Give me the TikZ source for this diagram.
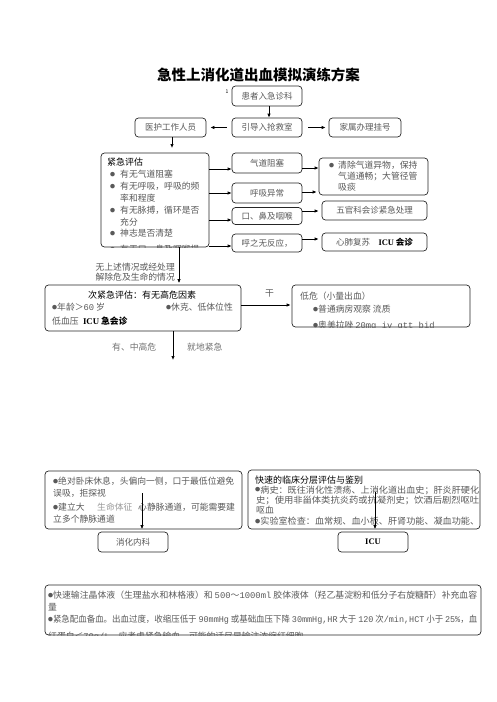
\documentclass[tikz,border=0pt]{standalone}
\usepackage{fontspec}
\usepackage{graphicx}
\setmainfont{Noto Sans CJK SC}
\newfontfamily\tnr{Liberation Serif}
\newfontfamily\mono{Liberation Mono}
\usetikzlibrary{arrows.meta,calc}
\newcommand\dotb{\raisebox{1.2pt}{\fontsize{5}{5}\selectfont ●}}
\newcommand\fitw[2]{\resizebox{#1}{\height}{#2}}
\newcommand\icu{{\tnr\bfseries ICU}}
\begin{document}
\begin{tikzpicture}[x=1pt,y=-1pt,
  box/.style={draw=black!85, line width=0.7pt, rounded corners=3.5pt, inner sep=0pt, font=\fontsize{8.5}{10}\selectfont, text=black!65},
  tx/.style={anchor=west, inner sep=0pt, font=\fontsize{8.8}{10}\selectfont, text=black!65},
  hd/.style={tx, text=black, font=\fontsize{9}{10}\selectfont},
  arr/.style={line width=0.7pt, -{Latex[length=4pt,width=3.4pt]}},
]
\useasboundingbox (0,0) rectangle (496,702);
\fill[white] (0,0) rectangle (496,702);

% title
\node[font=\bfseries\fontsize{14.5}{16}\selectfont] (title) at (258.5,75) {急性上消化道出血模拟演练方案};
\node[inner sep=0pt, font=\fontsize{5}{5}\selectfont] (sup1) at (227,92) {1};

% top row
\node[box, minimum width=70pt, minimum height=20pt] (n1) at (267,96) {患者入急诊科};
\node[box, minimum width=70pt, minimum height=19pt] (n2) at (267,127.5) {引导入抢救室};
\node[box, minimum width=71pt, minimum height=19pt] (n3) at (170.5,127.5) {医护工作人员};
\node[box, minimum width=72pt, minimum height=19pt] (n4) at (365,127.5) {家属办理挂号};
\draw[arr] ([xshift=2pt]n1.south) -- ([xshift=2pt]n2.north);
\draw[arr, shorten <=5pt, shorten >=4pt] (n2) -- (n3);
\draw[arr, shorten <=6pt, shorten >=3pt] (n2) -- (n4);
\draw[arr, shorten >=5pt] ([xshift=1.5pt]n3.south) -- ([xshift=1.5pt]n3.south |- 0,153);

% emergency assessment
\node[box, minimum width=108pt, minimum height=94pt] (n5) at (155,200) {};
\begin{scope}
\clip[rounded corners=3.5pt] (n5.south west) rectangle (n5.north east);
\node[hd] (t5a) at (107,162) {紧急评估};
\node[tx] (t5b) at (110,174) {\makebox[10pt][l]{\dotb}有无气道阻塞};
\node[tx] (t5c) at (110,186) {\makebox[10pt][l]{\dotb}有无呼吸，呼吸的频};
\node[tx] (t5d) at (120,198) {率和程度};
\node[tx] (t5e) at (110,210) {\makebox[10pt][l]{\dotb}有无脉搏，循环是否};
\node[tx] (t5f) at (120,222) {充分};
\node[tx] (t5g) at (110,233) {\makebox[10pt][l]{\dotb}神志是否清楚};
\node[tx] (t5h) at (110,249) {\makebox[10pt][l]{\dotb}有无口、鼻及咽喉损};
\end{scope}

% middle column
\node[box, minimum width=70pt, minimum height=20pt] (r1) at (267,163) {气道阻塞};
\node[box, minimum width=70pt, minimum height=20pt] (r2) at (267,193) {呼吸异常};
\node[box, minimum width=70pt, minimum height=17pt] (r3) at (267,216) {口、鼻及咽喉};
\node[box, minimum width=70pt, minimum height=18pt] (r4) at (267,243) {呼之无反应，};
\path ($(r1.west)+(0,6)$) coordinate (a1);
\path (r2.west) coordinate (a2);
\path ($(r3.west)+(0,4)$) coordinate (a3);
\path ($(r4.west)+(0,3)$) coordinate (a4);
\draw[arr] (n5.east |- a1) -- (a1);
\draw[arr] (n5.east |- a2) -- (a2);
\draw[arr] (n5.east |- a3) -- (a3);
\draw[arr] (n5.east |- a4) -- (a4);

% right column
\node[box, minimum width=109pt, minimum height=37pt] (s1) at (373.5,176.5) {};
\node[tx] (t1a) at (329,165) {\makebox[9pt][l]{\dotb}清除气道异物，保持};
\node[tx] (t1b) at (338,176) {气道通畅；大管径管};
\node[tx] (t1c) at (338,187) {吸痰};
\node[box, minimum width=105pt, minimum height=19pt] (s2) at (374.5,210.5) {五官科会诊紧急处理};
\node[box, minimum width=105pt, minimum height=18pt] (s3) at (374.5,242) {心肺复苏\quad{\color{black}\icu\ \bfseries 会诊}};
\path ($(r1.east)+(0,5)$) coordinate (b1);
\path ($(r2.east)+(0,-1)$) coordinate (b2);
\path ($(r3.east)+(0,-5)$) coordinate (b3);
\path ($(r4.east)+(0,-4)$) coordinate (b4);
\draw[arr] (b1) -- (s1.west |- b1);
\draw[arr, shorten >=2pt] (b2) -- (s1.west |- b2);
\draw[arr, shorten >=3pt] (b3) -- (s2.west |- b3);
\draw[arr, shorten >=3pt] (b4) -- (s3.west |- b4);

% to secondary assessment
\coordinate (c56) at (179,0);
\node[tx, anchor=east] (u1) at (175,267) {无上述情况或经处理};
\node[tx, anchor=east] (u2) at (175,277) {解除危及生命的情况};
\node[box, minimum width=196pt, minimum height=46pt] (n6) at (143,308) {};
\draw[arr, shorten >=1.5pt] (n5.south -| c56) -- (n6.north -| c56);
\node[hd, anchor=center] (t6a) at (142,295) {次紧急评估：有无高危因素};
\node[tx] (t6b) at (52,307) {\dotb 年龄＞{\mono 60} 岁};
\node[tx] (t6c) at (166,307) {\dotb 休克、低体位性};
\node[tx] (t6d) at (52,321) {低血压\enspace{\color{black}\icu\ \bfseries 急会诊}};
\node[tx] (gan) at (265,293) {干};

\node[box, minimum width=178pt, minimum height=42pt] (n7) at (381,306) {};
\coordinate (c67) at (0,305);
\draw[arr, shorten >=1pt] (n6.east |- c67) -- (n7.west |- c67);
\begin{scope}
\clip[rounded corners=3.5pt] (n7.south west) rectangle (n7.north east);
\node[tx] (t7a) at (300,296) {低危（小量出血）};
\node[tx] (t7b) at (313,309) {\dotb 普通病房观察 流质};
\node[tx] (t7c) at (313,326) {\dotb 奥美拉唑 {\mono 20mg iv gtt bid}};
\end{scope}

\node[tx, text=black!55] (v1) at (112,347) {有、中高危};
\node[tx, text=black!55] (v2) at (187,347) {就地紧急};
\coordinate (c6d) at (173,360);
\draw[arr] (n6.south -| c6d) -- (c6d);

% lower boxes
\node[box, minimum width=197pt, minimum height=58pt] (n8) at (143.5,500) {};
\node[tx] (t8a) at (53,481) {\fitw{181pt}{\dotb 绝对卧床休息，头偏向一侧，口于最低位避免}};
\node[tx] (t8b) at (53,493) {误吸，拒探视};
\node[tx] (t8c) at (53,507) {\dotb 建立大};
\node[tx, text=black!40] (t8d) at (97,507) {生命体征};
\node[tx] (t8e) at (138,507) {心静脉通道，可能需要建};
\node[tx] (t8f) at (53,519) {立多个静脉通道};
\node[box, minimum width=70pt, minimum height=20pt] (n9) at (133,542) {消化内科};
\coordinate (c8) at (142,493);
\draw[arr, shorten >=2.5pt] (c8) -- (c8 |- n9.north);

\node[box, minimum width=232pt, minimum height=59pt] (n10) at (364,499.5) {};
\node[hd] (t10a) at (255,480) {快速的临床分层评估与鉴别};
\node[tx] (t10b) at (255,490) {\fitw{224pt}{\dotb 病史：既往消化性溃疡、上消化道出血史；肝炎肝硬化}};
\node[tx] (t10c) at (256,500) {\fitw{223pt}{史；使用非甾体类抗炎药或抗凝剂史；饮酒后剧烈呕吐}};
\node[tx] (t10d) at (256,510) {呕血};
\node[tx] (t10e) at (255,521) {\fitw{224pt}{\dotb 实验室检查：血常规、血小板、肝肾功能、凝血功能、}};
\node[box, minimum width=70pt, minimum height=20pt] (n11) at (373,542) {{\color{black}\icu}};
\coordinate (c10) at (375,492);
\draw[arr, shorten >=2.5pt] (c10) -- (c10 |- n11.north);

% bottom box
\node[box, minimum width=436pt, minimum height=50pt] (n12) at (263,610) {};
\begin{scope}
\clip[rounded corners=3.5pt] (n12.south west) rectangle (n12.north east);
\node[tx] (t12a) at (48,595) {\fitw{429pt}{\dotb 快速输注晶体液（生理盐水和林格液）和 {\mono 500}～{\mono 1000ml} 胶体液体（羟乙基淀粉和低分子右旋糖酐）补充血容}};
\node[tx] (t12b) at (48,607.5) {量};
\node[tx] (t12c) at (48,620) {\fitw{429pt}{\dotb 紧急配血备血。出血过度，收缩压低于 {\mono 90mmHg} 或基础血压下降 {\mono 30mmHg,HR} 大于 {\mono 120} 次{\mono /min,HCT} 小于 {\mono 25\%}，血}};
\node[tx] (t12d) at (48,637) {红蛋白＜{\mono 70g/L}，应考虑紧急输血，可能的话尽早输注浓缩红细胞。};
\end{scope}
\end{tikzpicture}
\end{document}
